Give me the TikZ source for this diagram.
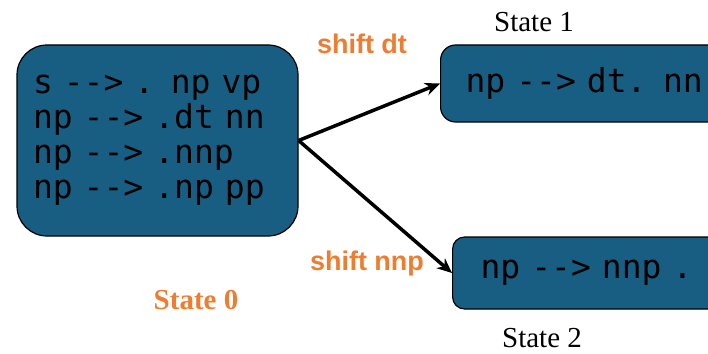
\documentclass[tikz,border=0pt]{standalone}
\usepackage{fontspec}
\setmainfont{Liberation Serif}
\setmonofont[Ligatures=TeXOff]{DejaVu Sans Mono}
\newfontfamily\shiftfont{Liberation Sans}
\usetikzlibrary{arrows.meta,positioning}
\definecolor{boxblue}{HTML}{185E82}
\definecolor{lblorange}{HTML}{ED7D31}
\tikzset{
  statebox/.style={draw=black, line width=1.2pt, fill=boxblue, align=left,
    font=\ttfamily\fontsize{33}{35}\selectfont, inner ysep=0pt},
  shiftlbl/.style={text=lblorange, inner sep=0pt, anchor=base,
    font=\shiftfont\bfseries\fontsize{27}{30}\selectfont},
  statelbl/.style={inner sep=0pt, anchor=base, font=\fontsize{29}{32}\selectfont}
}
\begin{document}
\begin{tikzpicture}[x=1pt,y=-1pt]
  \useasboundingbox (0,0) rectangle (708,353);
  \clip (0,0) rectangle (708,353);
  \begin{scope}[every node/.style={statebox}]
    \node (S0) [rounded corners=30pt, minimum width=281pt, minimum height=191pt,
      text width=249pt, inner xsep=16pt] at (157.5,140.5)
      {s --> . np vp\\np --> .dt nn\\np --> .nnp\\np --> .np pp};
    \node (S1) [rounded corners=15pt, minimum width=290pt, minimum height=77pt,
      text width=240pt, inner xsep=25pt, anchor=west] at (440,83.5)
      {np --> dt. nn};
    \node (S2) [rounded corners=12pt, minimum width=290pt, minimum height=72pt,
      text width=234pt, inner xsep=28pt, anchor=west] at (452,273)
      {np --> nnp .};
  \end{scope}
  % state names
  \node (L0) [statelbl, text=lblorange, font=\bfseries\fontsize{29}{32}\selectfont] at (196,309) {State 0};
  \node (L1) [statelbl] at (534,31) {State 1};
  \node (L2) [statelbl] at (542,347) {State 2};
  % transitions
  \begin{scope}[every edge/.style={draw=black, line width=3.5pt, -{Stealth[length=15pt,width=13pt]}}]
    \path (S0.east) edge (S1.west);
    \path (S0.east) edge (S2.west);
  \end{scope}
  \node (T1) [shiftlbl] at (362,53) {shift dt};
  \node (T2) [shiftlbl] at (367,270) {shift nnp};
\end{tikzpicture}
\end{document}
